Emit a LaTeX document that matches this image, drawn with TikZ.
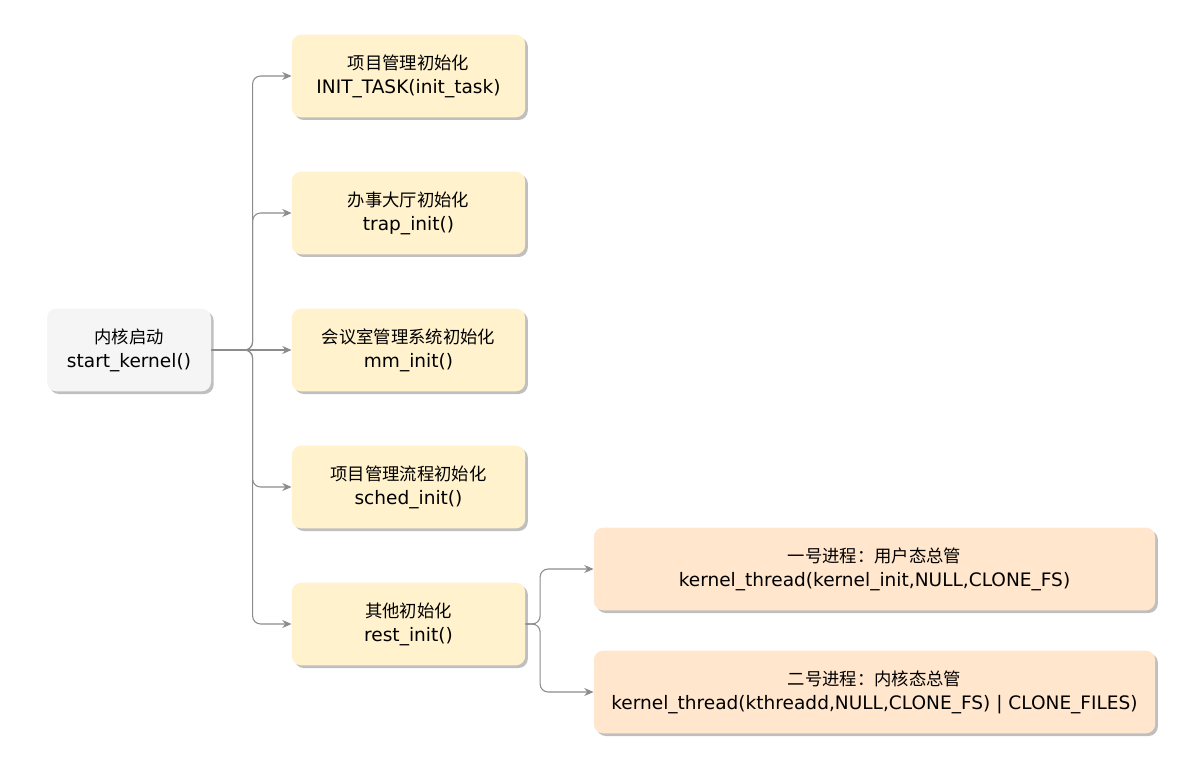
\documentclass[tikz,border=0pt]{standalone}
\usepackage{fontspec}
\setmainfont{DejaVu Sans}[Scale=1.07]
\newfontfamily\cjk{Noto Sans CJK SC}
\usetikzlibrary{arrows.meta,shadows}
\definecolor{boxgray}{HTML}{F5F5F5}
\definecolor{boxyellow}{HTML}{FFF2CC}
\definecolor{boxorange}{HTML}{FFE6CC}
\definecolor{linegray}{HTML}{8C8C8C}
\begin{document}
\begin{tikzpicture}[x=0.75pt,y=-0.75pt,
  box/.style={rounded corners=7pt,minimum height=62pt,align=center,inner sep=2pt,
    font=\fontsize{13}{18}\selectfont,
    drop shadow={shadow xshift=2pt,shadow yshift=-2pt,fill=black,opacity=0.25}},
  conn/.style={draw=linegray,line width=0.8pt,rounded corners=6pt,-{Stealth[length=7pt,width=6pt]}}]
\useasboundingbox(0,0)rectangle(1198,766);
\node[box,fill=boxgray,minimum width=123pt](sk)at(129,350){{\cjk 内核启动}\\start\_kernel()};
\foreach \y/\n/\a/\b in {76/n1/项目管理初始化/INIT\_TASK(init\_task),213/n2/办事大厅初始化/trap\_init(),350/n3/会议室管理系统初始化/mm\_init(),487/n4/项目管理流程初始化/sched\_init(),624/n5/其他初始化/rest\_init()}
  {\node[box,fill=boxyellow,minimum width=175pt](\n)at(408.5,\y){{\cjk \a}\\\b};}
\node[box,fill=boxorange,minimum width=421pt](p1)at(874.5,569){{\cjk 一号进程：用户态总管}\\kernel\_thread(kernel\_init,NULL,CLONE\_FS)};
\node[box,fill=boxorange,minimum width=421pt](p2)at(874.5,692){{\cjk 二号进程：内核态总管}\\kernel\_thread(kthreadd,NULL,CLONE\_FS) | CLONE\_FILES)};
% trunk from start_kernel
\coordinate(j)at([xshift=31pt]sk.east);
\foreach \n in {n1,n2,n4,n5}{\draw[conn](sk.east)--(j)|-(\n.west);}
\draw[conn](sk.east)--(n3.west);
% branches of rest_init
\coordinate(k)at([xshift=11pt]n5.east);
\foreach \n in {p1,p2}{\draw[conn](n5.east)--(k)|-(\n.west);}
\end{tikzpicture}
\end{document}
